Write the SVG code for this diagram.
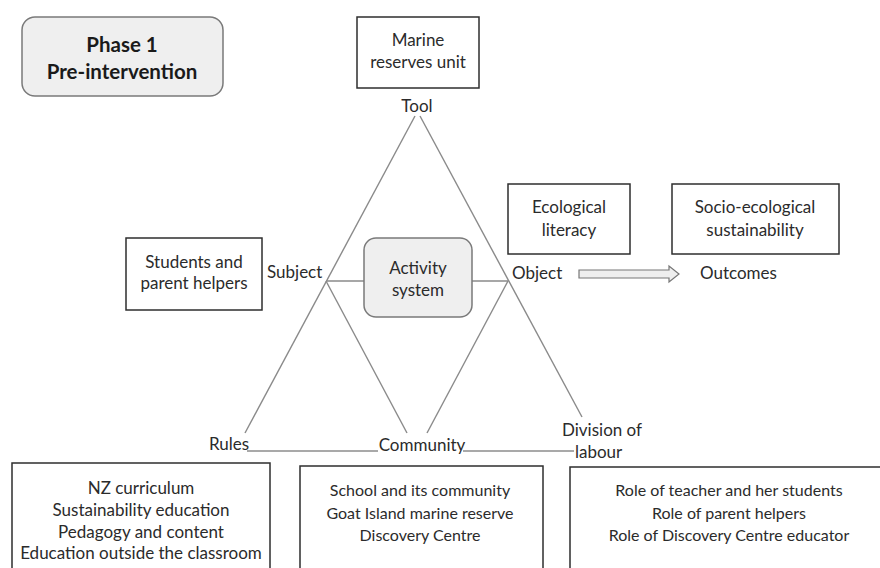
<svg xmlns="http://www.w3.org/2000/svg" width="880" height="568" viewBox="0 0 880 568">
  <style>
    text { font-family: Lato, "Liberation Sans", Arial, sans-serif; font-size: 17px; fill: #2b2b2b; text-anchor: middle; }
    .title { font-weight: bold; font-size: 20.5px; fill: #1a1a1a; }
    .lbl { text-anchor: start; }
    .sm { font-size: 16px; }
    .box { fill: #ffffff; stroke: #2e2e2e; stroke-width: 1.5; }
    .rbox { fill: #efefef; stroke: #7a7a7a; stroke-width: 1.5; }
    .edge { stroke: #8a8a8a; stroke-width: 1.4; fill: none; }
    .base { stroke: #555555; stroke-width: 1.2; fill: none; }
  </style>
  <rect width="880" height="568" fill="#ffffff"/>

  <!-- activity triangle -->
  <g id="connectors">
    <line class="edge" x1="415" y1="116" x2="245" y2="433"/>
    <line class="edge" x1="420" y1="116" x2="582" y2="417"/>
    <line class="edge" x1="326" y1="281" x2="407" y2="433"/>
    <line class="edge" x1="508" y1="281" x2="427" y2="433"/>
    <line class="edge" x1="326" y1="281" x2="364" y2="281"/>
    <line class="edge" x1="472" y1="281" x2="508" y2="281"/>
    <line class="base" x1="247" y1="451" x2="378" y2="451"/>
    <line class="base" x1="463" y1="451" x2="574" y2="451"/>
    <path d="M579,270 H669 V266 L679,274 L669,282 V278 H579 Z" fill="#eeeeee" stroke="#777777" stroke-width="1.2"/>
  </g>

  <g id="phase">
    <rect class="rbox" x="22" y="17" width="201" height="79" rx="13"/>
    <text class="title" x="122" y="52">Phase 1</text>
    <text class="title" x="122" y="79">Pre-intervention</text>
  </g>

  <g id="tool">
    <rect class="box" x="357" y="17" width="122" height="71"/>
    <text x="418" y="46">Marine</text>
    <text x="418" y="68">reserves unit</text>
    <text x="417" y="112">Tool</text>
  </g>

  <g id="subject">
    <rect class="box" x="126" y="238" width="136" height="72"/>
    <text x="194" y="268">Students and</text>
    <text x="194" y="289">parent helpers</text>
    <text class="lbl" x="267" y="278">Subject</text>
  </g>

  <g id="activity-system">
    <rect class="rbox" x="364" y="238" width="108" height="79" rx="12"/>
    <text x="418" y="274">Activity</text>
    <text x="418" y="296">system</text>
  </g>

  <g id="object">
    <rect class="box" x="508" y="184" width="122" height="70"/>
    <text x="569" y="213">Ecological</text>
    <text x="569" y="236">literacy</text>
    <text class="lbl" x="512" y="279">Object</text>
  </g>

  <g id="outcomes">
    <rect class="box" x="672" y="184" width="167" height="70"/>
    <text x="755" y="213">Socio-ecological</text>
    <text x="755" y="236">sustainability</text>
    <text class="lbl" x="700" y="279">Outcomes</text>
  </g>

  <g id="rules">
    <text class="lbl" x="209" y="450">Rules</text>
    <rect class="box" x="12" y="463" width="258" height="115"/>
    <text x="141" y="494">NZ  curriculum</text>
    <text x="141" y="516">Sustainability education</text>
    <text x="141" y="538">Pedagogy and content</text>
    <text x="141" y="559">Education outside the classroom</text>
  </g>

  <g id="community">
    <text x="422" y="451">Community</text>
    <rect class="box" x="300" y="466" width="243" height="112"/>
    <text class="sm" x="420" y="496">School and its community</text>
    <text class="sm" x="420" y="519">Goat Island marine reserve</text>
    <text class="sm" x="420" y="541">Discovery Centre</text>
  </g>

  <g id="division-of-labour">
    <text class="lbl" x="562" y="436">Division of</text>
    <text class="lbl" x="575" y="458">labour</text>
    <rect class="box" x="570" y="467" width="320" height="111"/>
    <text class="sm" x="729" y="496">Role of teacher and her students</text>
    <text class="sm" x="729" y="519">Role of parent helpers</text>
    <text class="sm" x="729" y="541">Role of Discovery Centre educator</text>
  </g>
</svg>
